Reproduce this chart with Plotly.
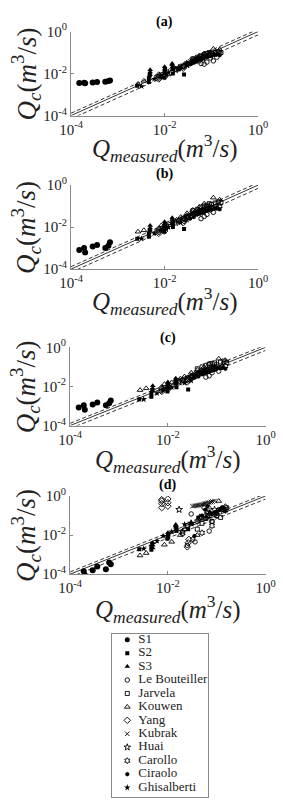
import plotly.graph_objects as go

# ---------------- data ----------------
series_names = ["S1", "S2", "S3", "Le Bouteiller", "Jarvela", "Kouwen", "Yang",
                "Kubrak", "Huai", "Carollo", "Ciraolo", "Ghisalberti"]
panel_labels = ["(a)", "(b)", "(c)", "(d)"]
tick_vals = [1e-4, 1e-2, 1.0]
tick_text = ["10<sup>-4</sup>", "10<sup>-2</sup>", "10<sup>0</sup>"]
line_factors = [1.0, 1.3, 0.7]

x_S1 = [1.5e-4, 1.9e-4, 2.0e-4, 2.9e-4, 3.6e-4, 5.4e-4, 6.3e-4, 6.8e-4]
ya_S1 = [3.6e-3, 3.7e-3, 3.5e-3, 3.8e-3, 4.0e-3, 4.1e-3, 4.4e-3, 4.7e-3]
yb_S1 = [8.0e-4, 1.0e-3, 6.2e-4, 1.2e-3, 1.4e-3, 1.0e-3, 1.3e-3, 1.9e-3]
yc_S1 = [8.5e-4, 1.1e-3, 6.5e-4, 1.2e-3, 1.5e-3, 1.1e-3, 1.4e-3, 1.9e-3]
yd_S1 = [7.0e-5, 1.4e-4, 9.0e-5, 1.6e-4, 2.5e-4, 1.8e-4, 4.0e-4, 3.2e-4]

x_S2 = [2.6e-3, 4.6e-3, 4.6e-3, 4.8e-3, 9.8e-3, 1.0e-2, 1.02e-2, 1.5e-2, 1.5e-2, 2.6e-2]
ya_S2 = [2.6e-3, 4.0e-3, 6.0e-3, 8.5e-3, 6.5e-3, 1.0e-2, 1.5e-2, 1.0e-2, 1.8e-2, 9.0e-3]
yb_S2 = [2.8e-3, 3.5e-3, 5.0e-3, 7.0e-3, 6.0e-3, 9.0e-3, 1.3e-2, 1.0e-2, 1.6e-2, 8.0e-3]
yc_S2 = [2.2e-3, 3.0e-3, 4.5e-3, 6.5e-3, 5.5e-3, 8.5e-3, 1.2e-2, 9.0e-3, 1.5e-2, 7.0e-3]
yd_S2 = [1.9e-3, 1.8e-3, 2.5e-3, 3.5e-3, 6.5e-3, 8.0e-3, 1.1e-2, 1.6e-2, 2.2e-2, 2.0e-2]

x_S3 = [4.9e-3, 4.9e-3, 4.9e-3, 1.0e-2, 1.0e-2, 1.0e-2, 1.45e-2, 1.45e-2, 1.45e-2, 1.45e-2]
ya_S3 = [9.0e-3, 1.2e-2, 1.5e-2, 1.2e-2, 1.6e-2, 2.1e-2, 1.5e-2, 2.0e-2, 2.6e-2, 3.0e-2]
yb_S3 = [7.0e-3, 9.0e-3, 1.2e-2, 1.0e-2, 1.4e-2, 1.8e-2, 1.4e-2, 1.8e-2, 2.3e-2, 2.8e-2]
yc_S3 = [6.0e-3, 8.0e-3, 1.1e-2, 9.0e-3, 1.3e-2, 1.7e-2, 1.3e-2, 1.7e-2, 2.2e-2, 2.6e-2]
yd_S3 = [2.2e-3, 3.0e-3, 4.0e-3, 7.0e-3, 1.0e-2, 1.3e-2, 1.8e-2, 2.5e-2, 3.0e-2, 3.5e-2]

x_LeB = [2.5e-2, 3.0e-2, 3.6e-2, 4.2e-2, 4.8e-2, 5.5e-2, 6.0e-2, 7.0e-2, 8.0e-2, 9.5e-2, 1.1e-1, 1.3e-1]
ya_LeB = [2.2e-2, 2.8e-2, 3.0e-2, 3.5e-2, 4.5e-2, 4.0e-2, 3.0e-2, 2.8e-2, 3.5e-2, 5.5e-2, 4.0e-2, 6.0e-2]
yb_LeB = [2.5e-2, 3.2e-2, 3.5e-2, 4.0e-2, 5.0e-2, 4.5e-2, 2.5e-2, 3.2e-2, 4.0e-2, 6.5e-2, 5.0e-2, 8.0e-2]
yc_LeB = [2.2e-2, 3.0e-2, 3.2e-2, 4.5e-2, 6.0e-2, 5.0e-2, 3.0e-2, 3.5e-2, 5.0e-2, 8.0e-2, 6.0e-2, 1.0e-1]
yd_LeB = [3.0e-3, 1.2e-1, 4.5e-3, 6.0e-2, 8.0e-2, 2.5e-1, 1.0e-1, 1.6e-2, 5.0e-2, 1.2e-1, 2.0e-1, 2.5e-1]

x_Jar = [4.0e-2, 5.0e-2, 6.0e-2, 7.0e-2, 8.0e-2, 9.0e-2, 1.0e-1, 1.2e-1, 1.4e-1, 1.6e-1]
ya_Jar = [5.0e-2, 6.0e-2, 7.0e-2, 8.0e-2, 9.0e-2, 1.0e-1, 9.0e-2, 1.0e-1, 1.1e-1, 1.0e-1]
yb_Jar = [6.0e-2, 7.0e-2, 9.0e-2, 1.0e-1, 1.1e-1, 1.3e-1, 1.2e-1, 1.4e-1, 1.6e-1, 1.5e-1]
yc_Jar = [8.0e-2, 1.0e-1, 1.2e-1, 1.4e-1, 1.5e-1, 1.6e-1, 1.3e-1, 1.8e-1, 2.0e-1, 1.7e-1]
yd_Jar = [2.0e-2, 4.0e-2, 7.0e-2, 1.0e-1, 5.0e-2, 1.2e-1, 1.0e-1, 8.0e-2, 2.0e-1, 2.5e-1]

x_Kou = [2.7e-3, 3.6e-3, 8.5e-3, 1.2e-2, 1.8e-2, 2.2e-2, 3.0e-2, 4.0e-2, 5.5e-2, 7.0e-2, 1.1e-1, 1.5e-1]
ya_Kou = [3.2e-3, 4.5e-3, 7.0e-3, 9.0e-3, 1.5e-2, 2.0e-2, 3.0e-2, 5.0e-2, 7.0e-2, 9.0e-2, 1.5e-1, 1.4e-1]
yb_Kou = [6.0e-3, 7.0e-3, 1.2e-2, 1.5e-2, 2.2e-2, 3.0e-2, 4.5e-2, 6.5e-2, 9.0e-2, 1.3e-1, 2.5e-1, 2.0e-1]
yc_Kou = [6.5e-3, 8.0e-3, 1.3e-2, 1.6e-2, 2.5e-2, 3.2e-2, 5.0e-2, 7.0e-2, 1.0e-1, 1.4e-1, 2.6e-1, 2.2e-1]
yd_Kou = [9.0e-4, 1.2e-3, 3.2e-3, 4.5e-3, 1.0e-2, 2.0e-2, 4.0e-2, 1.0e-2, 7.0e-2, 2.5e-1, 5.5e-1, 3.0e-1]

x_Yang = [7.5e-3, 7.5e-3, 7.5e-3, 7.5e-3, 1.0e-2, 1.0e-2, 1.0e-2, 2.5e-2, 2.6e-2, 2.7e-2]
ya_Yang = [5.5e-3, 6.5e-3, 7.5e-3, 8.5e-3, 7.0e-3, 8.0e-3, 9.5e-3, 1.8e-2, 2.2e-2, 2.6e-2]
yb_Yang = [5.0e-3, 6.0e-3, 7.0e-3, 8.0e-3, 6.5e-3, 8.0e-3, 1.0e-2, 1.6e-2, 2.0e-2, 2.4e-2]
yc_Yang = [5.5e-3, 6.5e-3, 7.5e-3, 8.5e-3, 7.0e-3, 8.5e-3, 1.05e-2, 1.7e-2, 2.1e-2, 2.5e-2]
yd_Yang = [2.5e-1, 4.0e-1, 5.5e-1, 6.5e-1, 3.0e-1, 4.5e-1, 7.0e-1, 2.5e-3, 4.0e-3, 6.0e-3]

x_Kub = [3.2e-2, 3.5e-2, 3.8e-2, 4.1e-2, 4.4e-2, 4.8e-2, 5.2e-2, 5.6e-2, 6.0e-2, 6.5e-2, 7.0e-2, 7.6e-2, 8.2e-2, 9.0e-2]
ya_Kub = [3.5e-2, 3.8e-2, 4.2e-2, 4.5e-2, 4.8e-2, 5.2e-2, 5.5e-2, 6.0e-2, 6.3e-2, 6.8e-2, 7.2e-2, 7.8e-2, 8.3e-2, 9.0e-2]
yb_Kub = [3.8e-2, 4.2e-2, 4.6e-2, 5.0e-2, 5.4e-2, 5.8e-2, 6.2e-2, 6.6e-2, 7.0e-2, 7.5e-2, 8.0e-2, 8.5e-2, 9.0e-2, 9.8e-2]
yc_Kub = [4.0e-2, 4.4e-2, 4.8e-2, 5.2e-2, 5.6e-2, 6.0e-2, 6.5e-2, 7.0e-2, 7.4e-2, 7.9e-2, 8.4e-2, 9.0e-2, 9.5e-2, 1.02e-1]
yd_Kub = [3.0e-1, 3.1e-1, 3.2e-1, 3.3e-1, 3.4e-1, 3.6e-1, 3.8e-1, 4.0e-1, 4.2e-1, 4.4e-1, 4.6e-1, 4.9e-1, 5.2e-1, 5.5e-1]

x_Huai = [1.7e-2, 2.0e-2, 3.0e-2, 4.5e-2, 6.5e-2, 9.0e-2]
ya_Huai = [1.5e-2, 1.8e-2, 2.6e-2, 4.0e-2, 5.5e-2, 7.5e-2]
yb_Huai = [1.6e-2, 2.0e-2, 3.0e-2, 4.5e-2, 6.0e-2, 8.5e-2]
yc_Huai = [1.7e-2, 2.1e-2, 3.2e-2, 4.8e-2, 6.5e-2, 9.0e-2]
yd_Huai = [2.0e-1, 1.5e-2, 4.0e-2, 8.0e-2, 1.3e-1, 2.0e-1]

x_Car = [2.0e-2, 2.5e-2, 3.2e-2, 4.0e-2, 5.0e-2, 6.5e-2, 8.0e-2, 1.0e-1, 1.25e-1, 1.5e-1]
ya_Car = [1.8e-2, 2.2e-2, 2.8e-2, 3.5e-2, 4.5e-2, 5.5e-2, 6.5e-2, 7.5e-2, 8.5e-2, 9.0e-2]
yb_Car = [2.0e-2, 2.6e-2, 3.2e-2, 4.0e-2, 5.0e-2, 6.0e-2, 7.0e-2, 8.5e-2, 9.5e-2, 1.0e-1]
yc_Car = [2.1e-2, 2.7e-2, 3.4e-2, 4.2e-2, 5.3e-2, 6.5e-2, 7.5e-2, 9.0e-2, 1.0e-1, 1.1e-1]
yd_Car = [1.2e-2, 3.0e-2, 6.0e-3, 5.0e-2, 1.3e-2, 9.0e-2, 3.0e-2, 1.5e-1, 2.0e-1, 1.8e-1]

x_Cir = [3.5e-2, 4.2e-2, 5.0e-2, 5.8e-2, 6.5e-2, 7.2e-2, 8.0e-2, 9.0e-2, 1.0e-1, 1.15e-1, 1.3e-1, 1.5e-1]
ya_Cir = [3.0e-2, 3.5e-2, 4.5e-2, 5.0e-2, 5.5e-2, 6.0e-2, 6.5e-2, 7.0e-2, 7.5e-2, 8.0e-2, 8.0e-2, 7.5e-2]
yb_Cir = [2.5e-2, 3.0e-2, 4.0e-2, 4.5e-2, 5.0e-2, 5.5e-2, 6.0e-2, 6.5e-2, 7.0e-2, 7.5e-2, 8.0e-2, 7.0e-2]
yc_Cir = [2.8e-2, 3.2e-2, 4.2e-2, 4.8e-2, 5.5e-2, 6.0e-2, 6.5e-2, 7.0e-2, 8.0e-2, 8.5e-2, 9.0e-2, 8.0e-2]
yd_Cir = [9.0e-3, 8.0e-2, 1.0e-1, 2.0e-1, 3.0e-1, 1.5e-1, 1.2e-1, 1.3e-1, 1.5e-1, 2.0e-1, 2.5e-1, 1.8e-1]

x_Ghi = [3.2e-3, 6.0e-3, 8.0e-3, 1.2e-2, 2.2e-2, 3.0e-2]
ya_Ghi = [2.5e-3, 5.5e-3, 8.0e-3, 1.1e-2, 1.8e-2, 2.5e-2]
yb_Ghi = [2.8e-3, 5.0e-3, 7.0e-3, 1.0e-2, 1.6e-2, 2.2e-2]
yc_Ghi = [2.2e-3, 4.5e-3, 6.5e-3, 9.0e-3, 1.5e-2, 2.0e-2]
yd_Ghi = [2.0e-3, 5.0e-3, 9.0e-3, 1.5e-2, 3.5e-2, 4.0e-2]

xs = [x_S1, x_S2, x_S3, x_LeB, x_Jar, x_Kou, x_Yang, x_Kub, x_Huai, x_Car, x_Cir, x_Ghi]
ys = {
    0: [ya_S1, ya_S2, ya_S3, ya_LeB, ya_Jar, ya_Kou, ya_Yang, ya_Kub, ya_Huai, ya_Car, ya_Cir, ya_Ghi],
    1: [yb_S1, yb_S2, yb_S3, yb_LeB, yb_Jar, yb_Kou, yb_Yang, yb_Kub, yb_Huai, yb_Car, yb_Cir, yb_Ghi],
    2: [yc_S1, yc_S2, yc_S3, yc_LeB, yc_Jar, yc_Kou, yc_Yang, yc_Kub, yc_Huai, yc_Car, yc_Cir, yc_Ghi],
    3: [yd_S1, yd_S2, yd_S3, yd_LeB, yd_Jar, yd_Kou, yd_Yang, yd_Kub, yd_Huai, yd_Car, yd_Cir, yd_Ghi],
}

# ---------------- styles ----------------
symbols = ["circle", "square", "triangle-up", "circle-open", "square-open", "triangle-up-open",
           "diamond-open", "x-thin-open", "star-open", "hexagram-open", "hexagon", "star"]
sizes = [6, 4, 5, 4.5, 4, 5, 5, 4.5, 5, 4.5, 4.5, 5]
leg_sizes = [5, 4, 5, 4.5, 4, 5, 5, 4.5, 5, 4.5, 4.5, 5]

W, H = 283, 810
SERIF = "Liberation Serif, Times New Roman, serif"
AX_COLOR = "#8a8a8a"

xdom_px = [(64, 267), (64, 267), (63, 275), (63, 275)]
ydom_px = [(22, 108), (179, 265), (345, 425), (497, 577)]
title_y_px = [12, 168, 335, 486]
xtitle_y_px = [141, 298, 459, 613]
ytitle_x_px = 15

fig = go.Figure()
layout = dict(
    width=W, height=H, margin=dict(l=0, r=0, t=0, b=0),
    paper_bgcolor="white", plot_bgcolor="white", showlegend=False,
    font=dict(family=SERIF, color="black"),
)
annotations = []

def ann(text, xp, yp, size, angle=0, color="#222"):
    return dict(text=text, x=xp / W, y=1 - yp / H, xref="paper", yref="paper",
                xanchor="center", yanchor="middle", showarrow=False, textangle=angle,
                font=dict(family=SERIF, size=size, color=color))

for p in range(4):
    sfx = "" if p == 0 else str(p + 1)
    xa, ya_ = "x" + sfx, "y" + sfx
    # reference lines
    for k, f in enumerate(line_factors):
        fig.add_trace(go.Scatter(
            x=[1e-4, 1.0], y=[1e-4 * f, 1.0 * f], mode="lines",
            line=dict(color="black", width=0.8, dash="solid" if k == 0 else "4px,2.5px"),
            xaxis=xa, yaxis=ya_, hoverinfo="skip"))
    # data series
    for i, name in enumerate(series_names):
        sym = symbols[i]
        is_open = sym.endswith("-open")
        fig.add_trace(go.Scatter(
            x=xs[i], y=ys[p][i], mode="markers", name=name,
            marker=dict(symbol=sym, size=sizes[i], color="black",
                        line=dict(color="black", width=0.9 if is_open else 0)),
            xaxis=xa, yaxis=ya_))
    x0, x1 = xdom_px[p]
    y0, y1 = ydom_px[p]
    axcommon = dict(type="log", range=[-4, 0], showgrid=False, zeroline=False,
                    showline=True, linecolor=AX_COLOR, linewidth=1,
                    ticks="inside", ticklen=3, tickcolor=AX_COLOR, tickwidth=1,
                    tickvals=tick_vals, ticktext=tick_text,
                    tickfont=dict(family=SERIF, size=15, color="#222"))
    layout["xaxis" + sfx] = dict(axcommon, domain=[x0 / W, x1 / W], anchor=ya_)
    layout["yaxis" + sfx] = dict(axcommon, domain=[1 - y1 / H, 1 - y0 / H], anchor=xa)
    cxp = (x0 + x1) / 2
    annotations.append(ann("<b>" + panel_labels[p] + "</b>", cxp, title_y_px[p], 14, color="black"))
    annotations.append(ann(
        "<i>Q</i><sub><i>measured</i></sub>(<i>m</i><sup>3</sup>/<i>s</i>)",
        cxp, xtitle_y_px[p], 25))
    annotations.append(ann(
        "<i>Q</i><sub><i>c</i></sub>(<i>m</i><sup>3</sup>/<i>s</i>)",
        ytitle_x_px, (y0 + y1) / 2, 27, angle=-90))

# ---------------- legend (drawn as its own small axes) ----------------
leg_idx = list(range(len(series_names)))
for i, name in enumerate(series_names):
    sym = symbols[i]
    is_open = sym.endswith("-open")
    fig.add_trace(go.Scatter(
        x=[17], y=[leg_idx[i]], mode="markers",
        marker=dict(symbol=sym, size=leg_sizes[i], color="black",
                    line=dict(color="black", width=0.9 if is_open else 0)),
        xaxis="x5", yaxis="y5", hoverinfo="skip"))
fig.add_trace(go.Scatter(
    x=[29] * len(series_names), y=leg_idx, mode="text", text=series_names,
    textposition="middle right", textfont=dict(family=SERIF, size=13, color="#222"),
    xaxis="x5", yaxis="y5", hoverinfo="skip"))
lx0, lx1, ly0, ly1 = 108, 212, 638, 805
leg_axis = dict(showgrid=False, zeroline=False, showticklabels=False, ticks="",
                showline=True, mirror=True, linecolor=AX_COLOR, linewidth=1, fixedrange=True)
layout["xaxis5"] = dict(leg_axis, domain=[lx0 / W, lx1 / W], range=[0, lx1 - lx0], anchor="y5")
layout["yaxis5"] = dict(leg_axis, domain=[1 - ly1 / H, 1 - ly0 / H],
                        range=[11.709, -0.436], anchor="x5")

layout["annotations"] = annotations
fig.update_layout(**layout)
fig.write_html("out.html")
